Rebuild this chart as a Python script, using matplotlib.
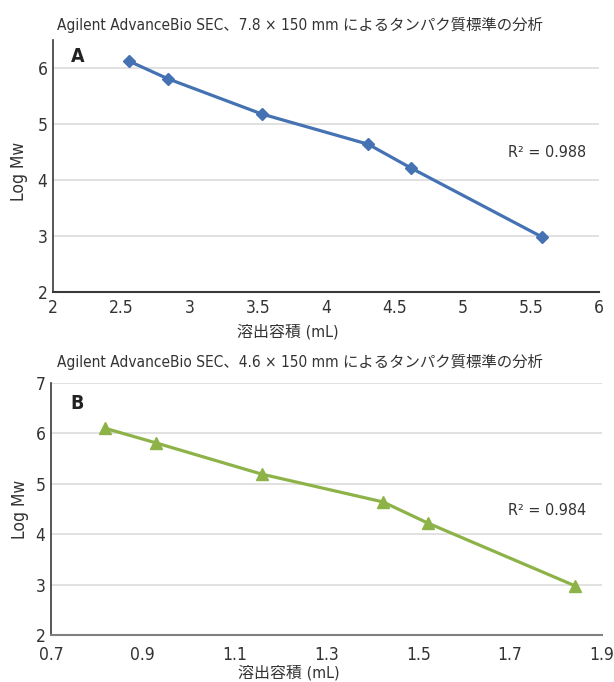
import matplotlib
matplotlib.use("Agg")
import matplotlib.pyplot as plt
from matplotlib import font_manager as fm

# ---- data ----
vol_a = [2.56, 2.84, 3.53, 4.31, 4.62, 5.58]
logmw_a = [6.12, 5.81, 5.18, 4.64, 4.22, 2.99]
vol_b = [0.817, 0.928, 1.159, 1.423, 1.521, 1.841]
logmw_b = [6.10, 5.81, 5.19, 4.64, 4.22, 2.98]
r2_a = "0.988"
r2_b = "0.984"
title_a = "Agilent AdvanceBio SEC、7.8 × 150 mm によるタンパク質標準の分析"
title_b = "Agilent AdvanceBio SEC、4.6 × 150 mm によるタンパク質標準の分析"
xlabel = "溶出容積 (mL)"
ylabel = "Log Mw"
xticks_a = [2, 2.5, 3, 3.5, 4, 4.5, 5, 5.5, 6]
xticks_b = [0.7, 0.9, 1.1, 1.3, 1.5, 1.7, 1.9]
yticks_a = [2, 3, 4, 5, 6]
yticks_b = [2, 3, 4, 5, 6, 7]

# prefer a condensed Latin face if one is installed
cond = [f for f in fm.fontManager.ttflist
        if f.name == "DejaVu Sans" and f.stretch in ("condensed", "semi-condensed")]
if cond:
    latin, stretch = "DejaVu Sans", "condensed"
else:
    latin, stretch = "Liberation Sans", "normal"
FAM = [latin, "Noto Sans CJK JP", "DejaVu Sans"]
plt.rcParams['font.family'] = FAM
plt.rcParams['font.stretch'] = stretch

W, H = 614, 682
fig = plt.figure(figsize=(W / 100, H / 100), dpi=100)

BLUE = "#4472B2"
GREEN = "#8DB348"
TXT = "#333333"
GRID = "#DCDCDC"


def px_ax(l, r, t, b):
    return [l / W, 1 - b / H, (r - l) / W, (b - t) / H]


def style(ax, xt, yt, xlim, ylim, grid_vals, bottom_col, xpad):
    ax.set_xlim(*xlim)
    ax.set_ylim(*ylim)
    ax.set_xticks(xt)
    ax.set_xticklabels([f"{v:g}" for v in xt])
    ax.set_yticks(yt)
    ax.set_yticklabels([f"{v:g}" for v in yt])
    for g in grid_vals:
        ax.axhline(g, color=GRID, lw=1.2, zorder=0)
    for s in ("top", "right"):
        ax.spines[s].set_visible(False)
    ax.spines["left"].set_color("#3a3a3a")
    ax.spines["left"].set_linewidth(1.2)
    ax.spines["bottom"].set_color(bottom_col)
    ax.spines["bottom"].set_linewidth(1.5)
    ax.tick_params(length=0, labelsize=12.5, colors=TXT)
    ax.tick_params(axis="x", pad=xpad)
    ax.tick_params(axis="y", pad=4)


# ---- panel A ----
axA = fig.add_axes(px_ax(53, 599, 40, 292.3))
style(axA, xticks_a, yticks_a, (2, 6), (2, 6.5), [3, 4, 5, 6], "#3a3a3a", 5)
axA.plot(vol_a, logmw_a, color=BLUE, lw=2.3, marker="D", ms=6.2, zorder=3)
axA.text(2.18, 6.2, "A", fontsize=14, fontweight="bold", color="#222222",
         ha="center", va="center")
axA.text(5.33, 4.5, "R² = " + r2_a, fontsize=11.5, color=TXT,
         ha="left", va="center")

# ---- panel B ----
axB = fig.add_axes(px_ax(51, 602, 382.7, 635.3))
style(axB, xticks_b, yticks_b, (0.7, 1.9), (2, 7), [3, 4, 5, 6, 7], "#808080", 8)
axB.plot(vol_b, logmw_b, color=GREEN, lw=2.3, marker="^", ms=8.5, zorder=3)
axB.text(0.757, 6.59, "B", fontsize=14, fontweight="bold", color="#222222",
         ha="center", va="center")
axB.text(1.695, 4.47, "R² = " + r2_b, fontsize=11.5, color=TXT,
         ha="left", va="center")

# ---- figure texts ----
fig.text(57 / W, 1 - 25 / H, title_a, fontsize=11.1, color=TXT, ha="left", va="center")
fig.text(57 / W, 1 - 361.7 / H, title_b, fontsize=11.1, color=TXT, ha="left", va="center")
fig.text(288 / W, 1 - 331.7 / H, xlabel, fontsize=11.5, color=TXT, ha="center", va="center")
fig.text(289 / W, 1 - 673 / H, xlabel, fontsize=11.5, color=TXT, ha="center", va="center")
fig.text(19 / W, 1 - 171.7 / H, ylabel, fontsize=12.5, color=TXT, ha="center",
         va="center", rotation=90)
fig.text(20 / W, 1 - 509 / H, ylabel, fontsize=12.5, color=TXT, ha="center",
         va="center", rotation=90)

fig.savefig("out.png", dpi=100)
